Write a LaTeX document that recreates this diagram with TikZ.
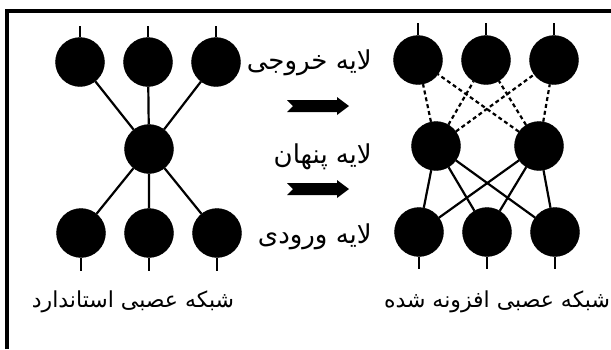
\documentclass[tikz,border=0pt]{standalone}
\usepackage{fontspec}
\newfontfamily\farsi[Script=Arabic]{DejaVu Sans}
\TeXXeTstate=1
\usetikzlibrary{calc}

\begin{document}
\begin{tikzpicture}[x=1pt,y=-1pt,
		neuron/.style={circle,fill=black,draw=black,minimum size=49pt,inner sep=0pt},
		link/.style={line width=2.2pt},
		dlink/.style={line width=2.2pt,dash pattern=on 4pt off 3pt},
		layer/.style={font=\farsi\fontsize{26}{30}\selectfont,anchor=east,inner sep=0pt},
		title/.style={font=\farsi\fontsize{22}{26}\selectfont,inner sep=0pt}]
	\useasboundingbox (0,0) rectangle (611,349);
	% frame
	\draw[line width=4pt] (7,349) -- (7,11) -- (611,11);

	% standard network
	\foreach \x [count=\i] in {80,148,216}
	{
		\node[neuron] (lo\i) at (\x,62) {};
		\node[neuron] (li\i) at (\x+1,233) {};
		\draw[link] (lo\i.north) -- ++(0,-11);
		\draw[link] (li\i.south) -- ++(0,13);
	}
	\node[neuron] (lh) at (149,149) {};
	\foreach \i in {1,2,3}
		\draw[link] (lh) -- (lo\i) (lh) -- (li\i);

	% expanded network
	\foreach \x [count=\i] in {418,486,554}
	{
		\node[neuron] (ro\i) at (\x,60) {};
		\node[neuron] (ri\i) at (\x+1,232) {};
		\draw[link] (ro\i.north) -- ++(0,-12);
		\draw[link] (ri\i.south) -- ++(0,12);
	}
	\node[neuron] (rh1) at (436,146) {};
	\node[neuron] (rh2) at (539,146) {};
	\foreach \i in {1,2,3}
	{
		\draw[dlink] (rh1) -- (ro\i) (rh2) -- (ro\i);
		\draw[link] (rh1) -- (ri\i) (rh2) -- (ri\i);
	}

	% layer names and arrows
	\node[layer] (out) at (372,63) {\beginR لایه خروجی\endR};
	\node[layer] (hid) at (372,157) {\beginR لایه\hspace{8pt}پنهان\endR};
	\node[layer] (inp) at (372,237) {\beginR لایه ورودی\endR};
	\foreach \y in {106,189}
		\fill (287,\y-6) -- (337,\y-6) -- (337,\y-9) -- (349,\y) -- (337,\y+9)
			-- (337,\y+6) -- (287,\y+6) -- (293,\y) -- cycle;

	% titles
	\node[title] (std) at (133,302) {\beginR شبکه عصبی استاندارد\endR};
	\node[title] (ext) at (497,302) {\beginR شبکه عصبی افزونه شده\endR};
\end{tikzpicture}
\end{document}
